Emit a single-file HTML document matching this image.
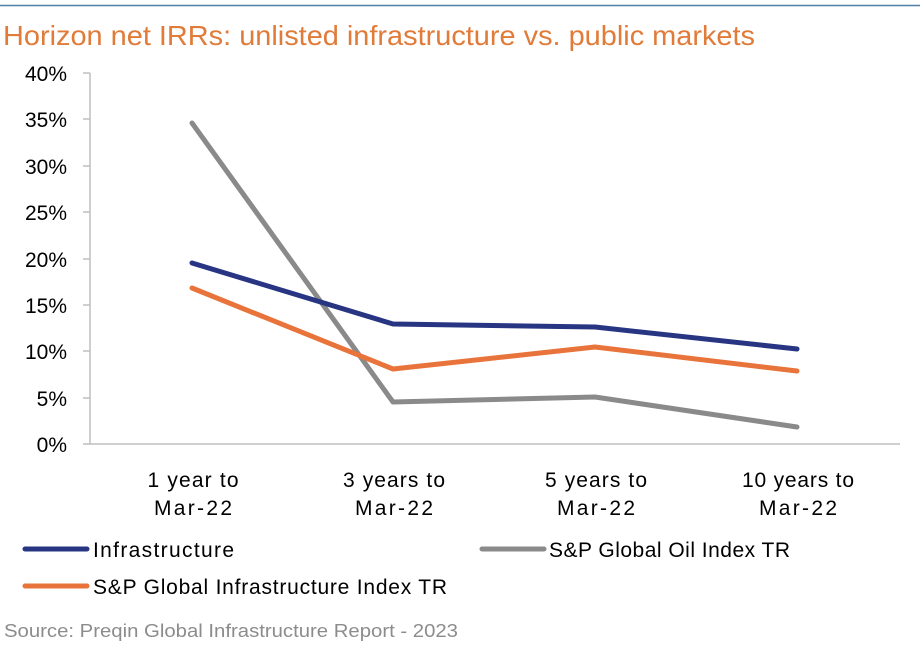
<!DOCTYPE html>
<html><head><meta charset="utf-8"><style>
html,body{margin:0;padding:0;background:#fff;}
svg{display:block;font-family:"Liberation Sans",sans-serif;}
</style></head><body>
<svg width="920" height="649" viewBox="0 0 920 649" xmlns="http://www.w3.org/2000/svg">
<line x1="0" y1="5.5" x2="920" y2="5.5" stroke="#4f7fa6" stroke-width="1.5"/>
<text x="3" y="45" font-size="28" fill="#E07B39" textLength="752" lengthAdjust="spacingAndGlyphs">Horizon net IRRs: unlisted infrastructure vs. public markets</text>
<g font-size="21" fill="#000" text-anchor="end">
<text x="67" y="81">40%</text><text x="67" y="127">35%</text><text x="67" y="174">30%</text>
<text x="67" y="220">25%</text><text x="67" y="267">20%</text><text x="67" y="313">15%</text>
<text x="67" y="359">10%</text><text x="67" y="406">5%</text><text x="67" y="452">0%</text>
</g>
<g stroke="#bfbfbf" stroke-width="1.5">
<line x1="90" y1="73" x2="90" y2="444"/>
<line x1="83" y1="444" x2="900" y2="444"/>
<line x1="83" y1="73" x2="90" y2="73"/><line x1="83" y1="119" x2="90" y2="119"/>
<line x1="83" y1="166" x2="90" y2="166"/><line x1="83" y1="212" x2="90" y2="212"/>
<line x1="83" y1="259" x2="90" y2="259"/><line x1="83" y1="305" x2="90" y2="305"/>
<line x1="83" y1="351" x2="90" y2="351"/><line x1="83" y1="398" x2="90" y2="398"/>
</g>
<g fill="none" stroke-width="5" stroke-linejoin="round" stroke-linecap="round">
<polyline stroke="#8a8a8a" points="192,123 393,402 595,397 797,427"/>
<polyline stroke="#283583" points="192,263 393,324 595,327 797,349"/>
<polyline stroke="#E8743B" points="192,288 393,369 595,347 797,371"/>
</g>
<g font-size="21" fill="#000" text-anchor="middle" lengthAdjust="spacingAndGlyphs">
<text x="193" y="487" textLength="91">1 year to</text><text x="193" y="515" textLength="78">Mar-22</text>
<text x="394" y="487" textLength="102">3 years to</text><text x="394" y="515" textLength="78">Mar-22</text>
<text x="596" y="487" textLength="102">5 years to</text><text x="596" y="515" textLength="78">Mar-22</text>
<text x="798" y="487" textLength="112">10 years to</text><text x="798" y="515" textLength="78">Mar-22</text>
</g>
<g stroke-width="5" stroke-linecap="round">
<line x1="25" y1="549" x2="87" y2="549" stroke="#283583"/>
<line x1="25" y1="586" x2="87" y2="586" stroke="#E8743B"/>
<line x1="482" y1="549" x2="544" y2="549" stroke="#8a8a8a"/>
</g>
<g font-size="21" fill="#000" lengthAdjust="spacingAndGlyphs">
<text x="93" y="557" textLength="141">Infrastructure</text>
<text x="93" y="594" textLength="354">S&amp;P Global Infrastructure Index TR</text>
<text x="549" y="557" textLength="241">S&amp;P Global Oil Index TR</text>
</g>
<text x="4" y="637" font-size="18" fill="#8c8c8c" textLength="454" lengthAdjust="spacingAndGlyphs">Source: Preqin Global Infrastructure Report - 2023</text>
</svg>
</body></html>
